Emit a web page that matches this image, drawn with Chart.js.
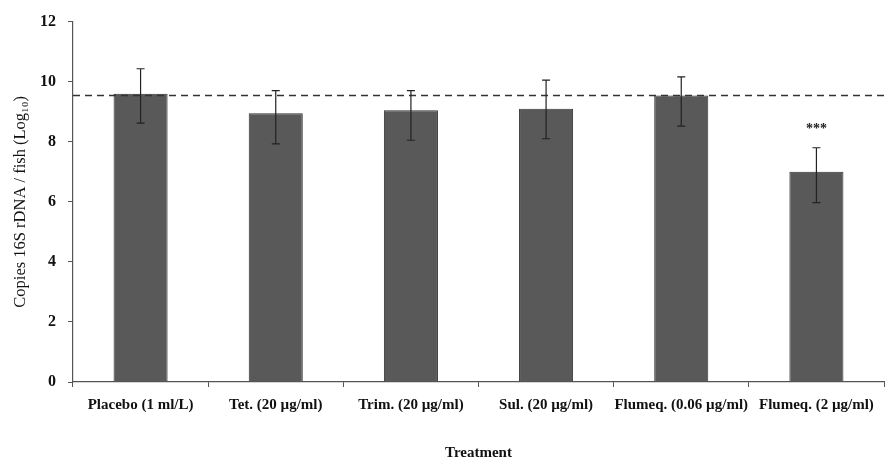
<!DOCTYPE html>
<html>
<head>
<meta charset="utf-8">
<script src="https://cdn.jsdelivr.net/npm/chart.js@4/dist/chart.umd.min.js"></script>
<style>
  html, body { margin: 0; padding: 0; background: #fff; }
  #wrap { width: 892px; height: 465px; position: relative; }
</style>
</head>
<body>
<div id="wrap"><canvas id="chart"></canvas></div>
<script>
// data
const categories = ['Placebo (1 ml/L)', 'Tet. (20 µg/ml)', 'Trim. (20 µg/ml)', 'Sul. (20 µg/ml)', 'Flumeq. (0.06 µg/ml)', 'Flumeq. (2 µg/ml)'];
const means = [9.6, 8.95, 9.05, 9.1, 9.54, 7.0];
const errUpper = [10.43, 9.7, 9.7, 10.05, 10.16, 7.8];
const errLower = [8.62, 7.93, 8.05, 8.1, 8.52, 5.97];
const significance = ['', '', '', '', '', '***'];
const placeboLine = 9.54;
const yTicks = [0, 2, 4, 6, 8, 10, 12];

const serif = "'Liberation Serif', 'Times New Roman', serif";

// error bars, dashed reference line, asterisks
const extrasPlugin = {
    id: 'extras',
    afterDatasetsDraw(chart) {
        const ctx = chart.ctx;
        const y = chart.scales.y;
        const area = chart.chartArea;
        const meta = chart.getDatasetMeta(0);

        ctx.save();
        // dashed line
        ctx.strokeStyle = '#333';
        ctx.lineWidth = 1.5;
        ctx.setLineDash([7, 5]);
        const yl = y.getPixelForValue(placeboLine);
        ctx.beginPath();
        ctx.moveTo(area.left, yl);
        ctx.lineTo(area.right, yl);
        ctx.stroke();
        ctx.setLineDash([]);

        // error bars
        ctx.strokeStyle = '#222';
        ctx.lineWidth = 1.2;
        meta.data.forEach((bar, i) => {
            const x = bar.x;
            const yt = y.getPixelForValue(errUpper[i]);
            const yb = y.getPixelForValue(errLower[i]);
            ctx.beginPath();
            ctx.moveTo(x, yt); ctx.lineTo(x, yb);
            ctx.moveTo(x - 4, yt); ctx.lineTo(x + 4, yt);
            ctx.moveTo(x - 4, yb); ctx.lineTo(x + 4, yb);
            ctx.stroke();

            if (significance[i]) {
                ctx.fillStyle = '#222';
                ctx.font = 'bold 14px ' + serif;
                ctx.textAlign = 'center';
                ctx.textBaseline = 'middle';
                ctx.fillText(significance[i], x, yt - 18);
            }
        });
        ctx.restore();
    }
};

new Chart(document.getElementById('chart'), {
    type: 'bar',
    data: {
        labels: categories,
        datasets: [{
            data: means,
            backgroundColor: '#595959',
            borderColor: '#333333',
            borderWidth: 1,
            barPercentage: 0.4,
            categoryPercentage: 1.0
        }]
    },
    options: {
        responsive: true,
        maintainAspectRatio: false,
        animation: false,
        layout: { padding: { top: 16, right: 8, left: 0, bottom: 0 } },
        plugins: {
            legend: { display: false },
            tooltip: { enabled: false }
        },
        scales: {
            x: {
                afterFit(scale) { scale.height = 83; },
                grid: {
                    offset: true,
                    drawOnChartArea: false,
                    drawTicks: true,
                    tickLength: 5,
                    color: '#555'
                },
                border: { color: '#555', width: 1.2 },
                ticks: {
                    color: '#111',
                    padding: 9,
                    maxRotation: 0,
                    autoSkip: false,
                    font: { family: serif, size: 15, weight: 'bold' }
                },
                title: {
                    display: true,
                    text: 'Treatment',
                    color: '#111',
                    padding: { top: 0, bottom: 3 },
                    font: { family: serif, size: 15, weight: 'bold' }
                }
            },
            y: {
                min: 0,
                max: 12,
                afterFit(scale) { scale.width = 73; },
                afterBuildTicks(scale) { scale.ticks = yTicks.map(v => ({ value: v })); },
                grid: {
                    drawOnChartArea: false,
                    drawTicks: true,
                    tickLength: 5,
                    color: '#555'
                },
                border: { color: '#555', width: 1.2 },
                ticks: {
                    color: '#111',
                    padding: 12,
                    font: { family: serif, size: 16, weight: 'bold' }
                },
                title: {
                    display: true,
                    text: 'Copies 16S rDNA / fish (Log₁₀)',
                    color: '#111',
                    padding: { top: 11, bottom: 0 },
                    font: { family: serif, size: 16.5 }
                }
            }
        }
    },
    plugins: [extrasPlugin]
});
</script>
</body>
</html>
